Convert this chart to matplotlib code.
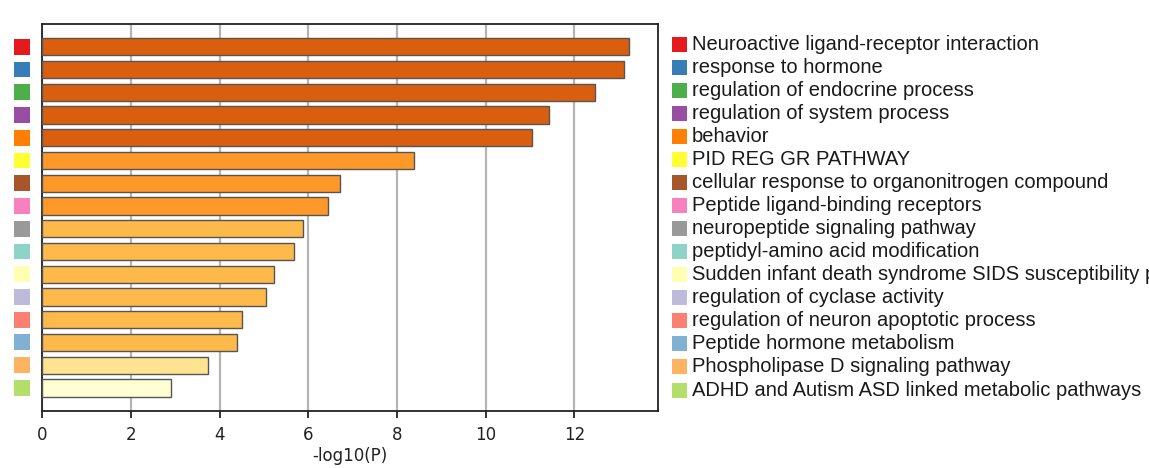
import matplotlib.pyplot as plt

terms = [
    "Neuroactive ligand-receptor interaction",
    "response to hormone",
    "regulation of endocrine process",
    "regulation of system process",
    "behavior",
    "PID REG GR PATHWAY",
    "cellular response to organonitrogen compound",
    "Peptide ligand-binding receptors",
    "neuropeptide signaling pathway",
    "peptidyl-amino acid modification",
    "Sudden infant death syndrome SIDS susceptibility pathways",
    "regulation of cyclase activity",
    "regulation of neuron apoptotic process",
    "Peptide hormone metabolism",
    "Phospholipase D signaling pathway",
    "ADHD and Autism ASD linked metabolic pathways",
]
logp = [13.24, 13.12, 12.47, 11.42, 11.04, 8.39, 6.72, 6.45,
        5.89, 5.68, 5.23, 5.05, 4.51, 4.40, 3.74, 2.91]
bar_colors = ["#d95f0e"] * 5 + ["#fe9929"] * 3 + ["#fdb94a"] * 6 + ["#fee391", "#ffffd4"]
term_colors = ["#e41a1c", "#377eb8", "#4daf4a", "#984ea3", "#ff7f00", "#ffff33",
               "#a65628", "#f781bf", "#999999", "#8dd3c7", "#ffffb3", "#bebada",
               "#fb8072", "#80b1d3", "#fdb462", "#b3de69"]
xticks = [0, 2, 4, 6, 8, 10, 12]

W, H = 1149, 468
fig = plt.figure(figsize=(W / 100, H / 100), dpi=100)

def px_axes(x0, y0, x1, y1):
    # pixel box (top-left origin) -> figure axes
    return fig.add_axes([x0 / W, 1 - y1 / H, (x1 - x0) / W, (y1 - y0) / H])

rows = list(range(len(terms)))

# main bar chart
ax = px_axes(42.3, 24, 657.7, 410.7)
ax.barh(rows, logp, height=0.76, color=bar_colors, edgecolor="#555555", linewidth=1.0, zorder=3)
ax.set_xlim(0, 13.88)
ax.set_ylim(16, -1)
ax.set_xticks(xticks)
ax.set_yticks([])
ax.grid(axis="x", color="#b4b4b4", linewidth=1.6, zorder=0)
ax.set_axisbelow(True)
for s in ax.spines.values():
    s.set_color("#222222")
    s.set_linewidth(1.3)
ax.tick_params(axis="x", length=5, width=1.3, pad=6, labelsize=12, colors="#222222")
ax.set_xlabel("-log10(P)", fontsize=12, color="#222222", labelpad=2)

# colored squares at the left of the bars
sq = px_axes(14, 24, 30, 410.7)
sq.barh(rows, [1] * len(rows), height=0.70, color=term_colors)
sq.set_xlim(0, 1)
sq.set_ylim(16, -1)
sq.axis("off")

# legend on the right
row_h = (390 - 44) / 15
lg = px_axes(672, 44 - row_h, W, 390 + row_h)
lg.set_xlim(0, W - 672)
lg.set_ylim(16, -1)
lg.axis("off")
lg.barh(rows, [15] * len(rows), height=15 / row_h, color=term_colors, left=0)
for i, t in enumerate(terms):
    lg.text(19.5, i, t, va="center", ha="left", fontsize=14.5,
            family="Liberation Sans", color="#1a1a1a", clip_on=False)

fig.savefig("out.png", dpi=100)
